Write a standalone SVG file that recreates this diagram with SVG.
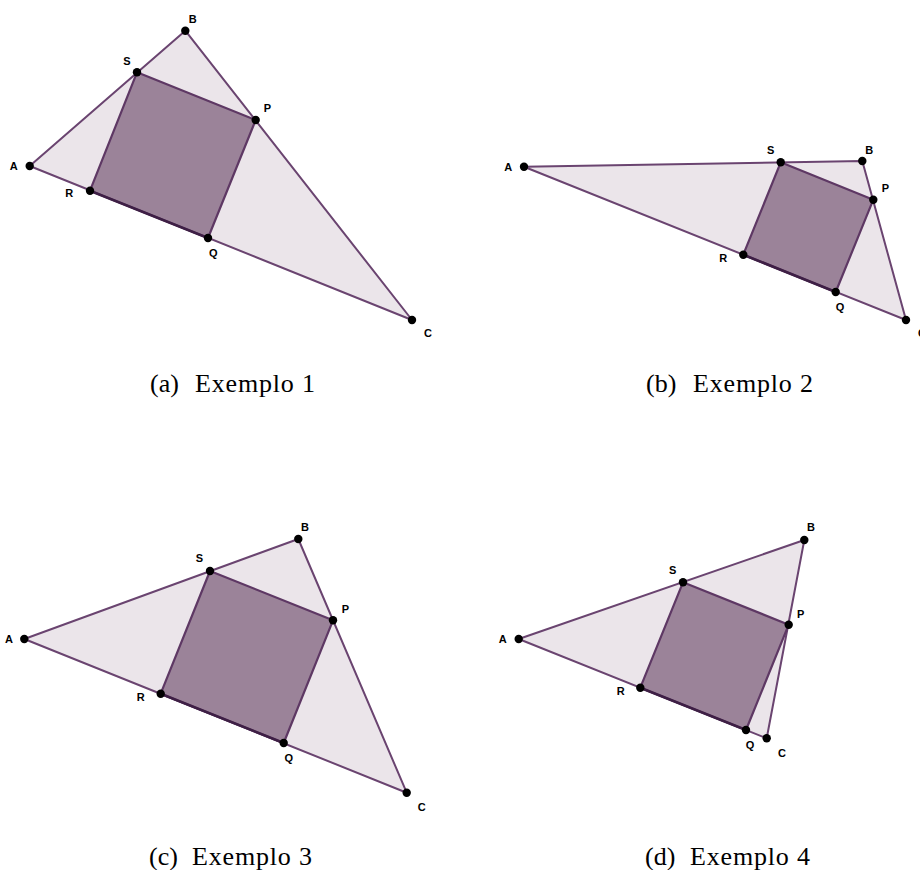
<svg xmlns="http://www.w3.org/2000/svg" width="920" height="870" viewBox="0 0 920 870">
<style>
.tri{fill:#ebe5ea;stroke:#6a4470;stroke-width:2;stroke-linejoin:round}
.sq{fill:#9b8399;stroke:#5e3864;stroke-width:2.2;stroke-linejoin:round}
.base{stroke:#3e1f45;stroke-width:2.6;fill:none}
.pt{fill:#000}
.lb{font-family:"Liberation Sans",Arial,sans-serif;font-weight:bold;font-size:11px;fill:#000;text-anchor:middle}
.cap{font-family:"Liberation Serif","Times New Roman",serif;font-size:26px;fill:#000}
</style>
<rect width="920" height="870" fill="#fff"/>

<g id="panel-a">
<polygon class="tri" points="29.7,166 185.3,30.7 412,320"/>
<polygon class="sq" points="137,72.3 255.7,120 208,238 90,190.7"/>
<line class="base" x1="90" y1="190.7" x2="208" y2="238"/>
<g id="a-A"><circle class="pt" cx="29.7" cy="166" r="4.2"/><text class="lb" x="13.7" y="170">A</text></g>
<g id="a-B"><circle class="pt" cx="185.3" cy="30.7" r="4.2"/><text class="lb" x="192.7" y="23">B</text></g>
<g id="a-C"><circle class="pt" cx="412" cy="320" r="4.2"/><text class="lb" x="428" y="337">C</text></g>
<g id="a-S"><circle class="pt" cx="137" cy="72.3" r="4.2"/><text class="lb" x="127" y="64.5">S</text></g>
<g id="a-P"><circle class="pt" cx="255.7" cy="120" r="4.2"/><text class="lb" x="267.3" y="112">P</text></g>
<g id="a-R"><circle class="pt" cx="90" cy="190.7" r="4.2"/><text class="lb" x="69.3" y="197">R</text></g>
<g id="a-Q"><circle class="pt" cx="208" cy="238" r="4.2"/><text class="lb" x="213.3" y="257">Q</text></g>
<text class="cap" y="392"><tspan x="150">(a)</tspan><tspan x="195" textLength="120" lengthAdjust="spacing">Exemplo 1</tspan></text>
</g>

<g id="panel-b">
<polygon class="tri" points="524,166.7 862.3,161 906,320"/>
<polygon class="sq" points="780.7,162.3 873.3,199.7 835.7,292 743.3,254.7"/>
<line class="base" x1="743.3" y1="254.7" x2="835.7" y2="292"/>
<g id="b-A"><circle class="pt" cx="524" cy="166.7" r="4.2"/><text class="lb" x="508.3" y="170.7">A</text></g>
<g id="b-B"><circle class="pt" cx="862.3" cy="161" r="4.2"/><text class="lb" x="869.3" y="154">B</text></g>
<g id="b-C"><circle class="pt" cx="906" cy="320" r="4.2"/><text class="lb" x="922" y="337">C</text></g>
<g id="b-S"><circle class="pt" cx="780.7" cy="162.3" r="4.2"/><text class="lb" x="770.7" y="154">S</text></g>
<g id="b-P"><circle class="pt" cx="873.3" cy="199.7" r="4.2"/><text class="lb" x="885.3" y="192">P</text></g>
<g id="b-R"><circle class="pt" cx="743.3" cy="254.7" r="4.2"/><text class="lb" x="723.3" y="262">R</text></g>
<g id="b-Q"><circle class="pt" cx="835.7" cy="292" r="4.2"/><text class="lb" x="840" y="311">Q</text></g>
<text class="cap" y="392"><tspan x="646">(b)</tspan><tspan x="693" textLength="120" lengthAdjust="spacing">Exemplo 2</tspan></text>
</g>

<g id="panel-c">
<polygon class="tri" points="24.3,639 298.3,539 406.7,792.7"/>
<polygon class="sq" points="210,571 333,620.3 283.7,743 160.7,693.7"/>
<line class="base" x1="160.7" y1="693.7" x2="283.7" y2="743"/>
<g id="c-A"><circle class="pt" cx="24.3" cy="639" r="4.2"/><text class="lb" x="9" y="643">A</text></g>
<g id="c-B"><circle class="pt" cx="298.3" cy="539" r="4.2"/><text class="lb" x="305" y="531">B</text></g>
<g id="c-C"><circle class="pt" cx="406.7" cy="792.7" r="4.2"/><text class="lb" x="421.7" y="811">C</text></g>
<g id="c-S"><circle class="pt" cx="210" cy="571" r="4.2"/><text class="lb" x="199.3" y="562">S</text></g>
<g id="c-P"><circle class="pt" cx="333" cy="620.3" r="4.2"/><text class="lb" x="345.3" y="613">P</text></g>
<g id="c-R"><circle class="pt" cx="160.7" cy="693.7" r="4.2"/><text class="lb" x="140.7" y="700.5">R</text></g>
<g id="c-Q"><circle class="pt" cx="283.7" cy="743" r="4.2"/><text class="lb" x="288.7" y="762">Q</text></g>
<text class="cap" y="865"><tspan x="149">(c)</tspan><tspan x="192" textLength="120" lengthAdjust="spacing">Exemplo 3</tspan></text>
</g>

<g id="panel-d">
<polygon class="tri" points="518.7,639 804.3,540 766.7,738.3"/>
<polygon class="sq" points="683,582.3 788.7,624.7 746,730 640.3,687.7"/>
<line class="base" x1="640.3" y1="687.7" x2="746" y2="730"/>
<g id="d-A"><circle class="pt" cx="518.7" cy="639" r="4.2"/><text class="lb" x="502.7" y="643">A</text></g>
<g id="d-B"><circle class="pt" cx="804.3" cy="540" r="4.2"/><text class="lb" x="811" y="531">B</text></g>
<g id="d-C"><circle class="pt" cx="766.7" cy="738.3" r="4.2"/><text class="lb" x="782" y="757">C</text></g>
<g id="d-S"><circle class="pt" cx="683" cy="582.3" r="4.2"/><text class="lb" x="672.7" y="574">S</text></g>
<g id="d-P"><circle class="pt" cx="788.7" cy="624.7" r="4.2"/><text class="lb" x="800.7" y="617.5">P</text></g>
<g id="d-R"><circle class="pt" cx="640.3" cy="687.7" r="4.2"/><text class="lb" x="620.7" y="695">R</text></g>
<g id="d-Q"><circle class="pt" cx="746" cy="730" r="4.2"/><text class="lb" x="750" y="749">Q</text></g>
<text class="cap" y="865"><tspan x="645">(d)</tspan><tspan x="690" textLength="120" lengthAdjust="spacing">Exemplo 4</tspan></text>
</g>
</svg>
